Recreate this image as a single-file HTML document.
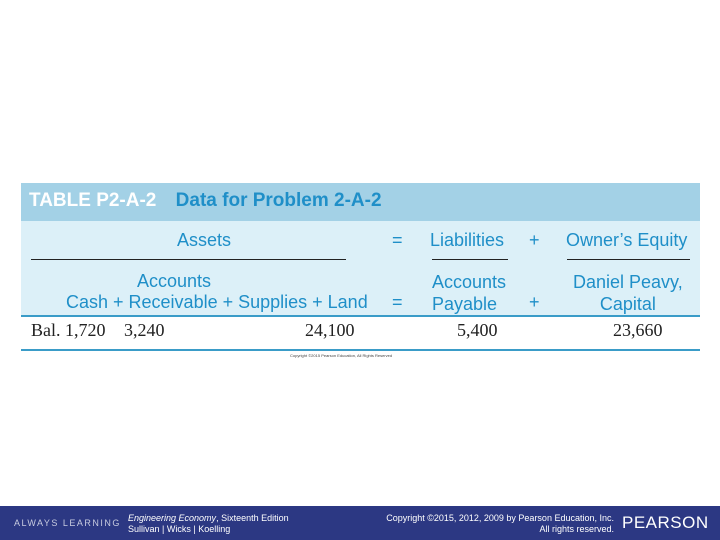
<!DOCTYPE html>
<html><head><meta charset="utf-8"><style>
body{margin:0;width:720px;height:540px;background:#fff;position:relative;overflow:hidden;font-family:"Liberation Sans",sans-serif}
.a{position:absolute;white-space:nowrap}
.t{color:#1f8fc8;font-size:18px}
.n{font-family:"Liberation Serif",serif;font-size:18px;color:#222}
.ln{position:absolute;background:#222;height:1px}
</style></head><body>
<div class="a" style="left:21px;top:183px;width:679px;height:38px;background:#a3d1e6"></div>
<div class="a" style="left:21px;top:221px;width:679px;height:95px;background:#dcf0f8"></div>
<div class="a" style="left:29px;top:190px;font-size:19px;font-weight:bold;color:#fff">TABLE P2-A-2 <span style="color:#1f8fc8;margin-left:14px">Data for Problem 2-A-2</span></div>
<div class="a t" style="left:177px;top:230px">Assets</div>
<div class="a t" style="left:392px;top:230px">=</div>
<div class="a t" style="left:430px;top:230px">Liabilities</div>
<div class="a t" style="left:529px;top:230px">+</div>
<div class="a t" style="left:566px;top:230px">Owner’s Equity</div>
<div class="ln" style="left:31px;top:259px;width:315px"></div>
<div class="ln" style="left:432px;top:259px;width:76px"></div>
<div class="ln" style="left:567px;top:259px;width:123px"></div>
<div class="a t" style="left:137px;top:271px">Accounts</div>
<div class="a t" style="left:66px;top:292px">Cash + Receivable + Supplies + Land</div>
<div class="a t" style="left:392px;top:292px">=</div>
<div class="a t" style="left:432px;top:271px;line-height:22px">Accounts<br>Payable</div>
<div class="a t" style="left:529px;top:292px">+</div>
<div class="a t" style="left:573px;top:271px;line-height:22px;text-align:center">Daniel Peavy,<br>Capital</div>
<div class="a" style="left:21px;top:315px;width:679px;height:2px;background:#3a9cc8"></div>
<div class="a n" style="left:31px;top:320px">Bal. 1,720</div>
<div class="a n" style="left:124px;top:320px">3,240</div>
<div class="a n" style="left:305px;top:320px">24,100</div>
<div class="a n" style="left:457px;top:320px">5,400</div>
<div class="a n" style="left:613px;top:320px">23,660</div>
<div class="a" style="left:21px;top:349px;width:679px;height:2px;background:#3a9cc8"></div>
<div class="a" style="left:290px;top:353px;font-size:4px;color:#444">Copyright ©2015 Pearson Education, All Rights Reserved</div>
<div class="a" style="left:0;top:506px;width:720px;height:34px;background:#2c3883"></div>
<div class="a" style="left:14px;top:518px;font-size:9px;letter-spacing:1.5px;color:#c8cce0">ALWAYS LEARNING</div>
<div class="a" style="left:128px;top:513px;font-size:9px;line-height:11px;color:#fff"><i>Engineering Economy</i>, Sixteenth Edition<br>Sullivan | Wicks | Koelling</div>
<div class="a" style="left:354px;top:513px;font-size:9px;line-height:11px;color:#fff;text-align:right;width:260px">Copyright ©2015, 2012, 2009 by Pearson Education, Inc.<br>All rights reserved.</div>
<div class="a" style="left:622px;top:513px;font-size:17px;color:#fff;letter-spacing:0.5px">PEARSON</div>
</body></html>
